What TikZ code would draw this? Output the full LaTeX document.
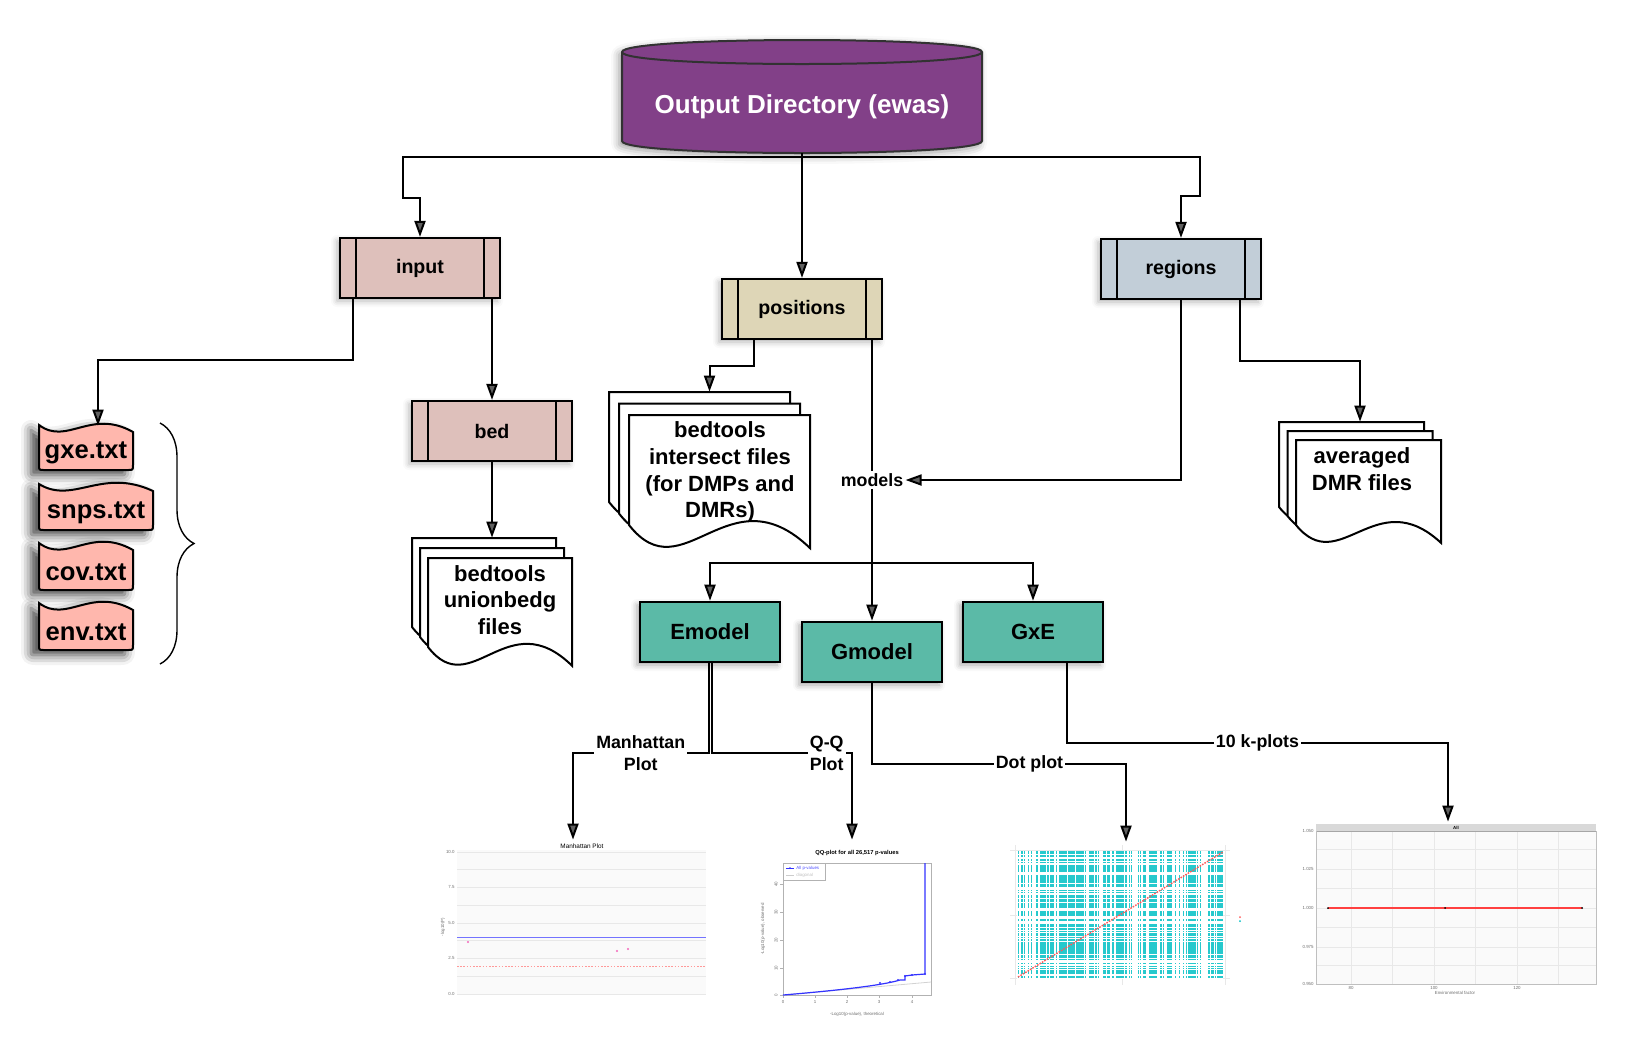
\documentclass[tikz,border=0pt]{standalone}
\usepackage{fontspec}
\setmainfont{Liberation Sans}
\usetikzlibrary{arrows.meta,decorations.pathreplacing,shadows.blur}

\definecolor{outfill}{RGB}{130,64,136}
\definecolor{cylline}{RGB}{50,50,50}
\definecolor{inputfill}{RGB}{222,192,187}
\definecolor{posfill}{RGB}{222,214,183}
\definecolor{regfill}{RGB}{194,206,216}
\definecolor{modelfill}{RGB}{91,186,167}
\definecolor{filefill}{RGB}{255,183,173}
\definecolor{dotcyan}{RGB}{0,191,196}
\definecolor{plotbg}{RGB}{250,250,250}
\definecolor{gridgrey}{RGB}{232,232,232}
\definecolor{tickgrey}{RGB}{110,110,110}

% one sheet of a document stack: left, top, width, height of left edge
\newcommand{\docsheet}[4]{%
  \filldraw[fill=white, line width=1pt] (#1,#2) -- (#1+#3,#2) -- (#1+#3,#2+1.21*#4)
    .. controls (#1+0.55*#3,#2+0.496*#4) and (#1+0.3*#3,#2+1.63*#4) .. (#1,#2+#4) -- cycle;
}
% text file with wavy top: left, top, width, height
\newcommand{\txtfile}[4]{%
  \filldraw[fill=filefill, line width=1pt,
    blur shadow={shadow xshift=-4pt, shadow yshift=-2.5pt, shadow opacity=75, shadow blur radius=5pt}]
    (#1,#2) .. controls (#1+0.3*#3,#2+21) and (#1+0.55*#3,#2-17) .. (#1+#3,#2+7)
    -- (#1+#3,#2+#4-5) .. controls (#1+#3,#2+#4) .. (#1+#3-5,#2+#4)
    -- (#1+5,#2+#4) .. controls (#1,#2+#4) .. (#1,#2+#4-5) -- cycle;
}

\tikzset{
  conn/.style={line width=1pt},
  arr/.style={conn, -{Triangle[width=5.5pt,length=8pt]}},
  procbox/.style={draw, line width=1.1pt, minimum width=80pt, minimum height=30pt,
    font=\bfseries\fontsize{9.8}{11}\selectfont,
    blur shadow={shadow xshift=-1.5pt, shadow yshift=-1.5pt, shadow opacity=30, shadow blur radius=3pt},
    path picture={
      \draw[line width=1.1pt] ([xshift=8pt]path picture bounding box.north west) -- ([xshift=8pt]path picture bounding box.south west);
      \draw[line width=1.1pt] ([xshift=-8pt]path picture bounding box.north east) -- ([xshift=-8pt]path picture bounding box.south east);
    }},
  modelbox/.style={draw, line width=1.3pt, fill=modelfill, minimum width=70pt, minimum height=30pt,
    font=\bfseries\fontsize{11}{13}\selectfont,
    blur shadow={shadow xshift=-1.5pt, shadow yshift=-1.5pt, shadow opacity=35, shadow blur radius=3pt}},
  doctext/.style={align=center, font=\bfseries\fontsize{11}{13.3}\selectfont},
  filetxt/.style={font=\bfseries\fontsize{12.8}{14}\selectfont, minimum width=47pt, minimum height=23pt, inner sep=0pt},
  lbl/.style={fill=white, inner sep=1pt, align=center, font=\bfseries\fontsize{8.9}{11}\selectfont},
  stack/.style={inner sep=0pt},
  ticklab/.style={inner sep=0.5pt, text=tickgrey, font=\fontsize{2.2}{2.6}\selectfont},
  plottitle/.style={inner sep=0.5pt, font=\fontsize{3.2}{3.8}\selectfont},
}

\begin{document}
\begin{tikzpicture}[x=0.5pt, y=-0.5pt]
\useasboundingbox (0,0) rectangle (1637,1062);

% output directory
\filldraw[draw=cylline, fill=outfill, line width=1pt,
  blur shadow={shadow xshift=-1.5pt, shadow yshift=-1.5pt, shadow opacity=40, shadow blur radius=4pt}]
  (622,52) -- (622,141) .. controls (622,157) and (982,157) .. (982,141)
  -- (982,52) .. controls (982,36) and (622,36) .. (622,52) -- cycle;
\draw[cylline, line width=1pt] (622,52) .. controls (622,68) and (982,68) .. (982,52);
\node[font=\bfseries\fontsize{13}{15}\selectfont, text=white, minimum width=180pt, minimum height=46pt] (outdir) at (802,107) {Output Directory (ewas)};

% folders
\node[procbox, fill=inputfill] (input) at (420,268) {input};
\node[procbox, fill=inputfill] (bed) at (492,431) {bed};
\node[procbox, fill=posfill] (positions) at (802,309) {positions};
\node[procbox, fill=regfill] (regions) at (1181,269) {regions};

% input files
\txtfile{39}{425}{94}{45}
\txtfile{39}{484}{114}{46}
\txtfile{39}{543}{94}{47}
\txtfile{39}{603}{94}{47}
\node[filetxt] (gxe) at (86,453) {gxe.txt};
\node[filetxt, minimum width=57pt] (snps) at (96,513) {snps.txt};
\node[filetxt] (cov) at (86,572) {cov.txt};
\node[filetxt] (env) at (86,632) {env.txt};
\draw[line width=0.7pt, decorate, decoration={brace, amplitude=17pt, aspect=0.5}] (160,423) -- (160,664);

% document stacks
\foreach \k in {0,1,2} {\docsheet{412+8*\k}{538+10*\k}{144}{89}}
\node[doctext] (ubdoc) at (500,600) {bedtools\\unionbedg\\files};
\node[stack, minimum width=80pt, minimum height=64pt] (ubstack) at (492,602) {};

\foreach \k in {0,1,2} {\docsheet{609+10*\k}{392+11.5*\k}{181}{110}}
\node[doctext] (isdoc) at (720,472) {bedtools\\intersect files\\(for DMPs and\\DMRs)};
\node[stack, minimum width=100.5pt, minimum height=80pt] (isstack) at (709.5,472) {};

\foreach \k in {0,1,2} {\docsheet{1279+8.5*\k}{422+9*\k}{145}{85}}
\node[doctext] (avdoc) at (1362,469) {averaged\\DMR files};
\node[stack, minimum width=81pt, minimum height=60pt] (avstack) at (1360,482) {};

% models
\node[lbl] (models) at (872,480) {models};
\coordinate (split) at (872,563);
\node[modelbox] (Emodel) at (710,632) {Emodel};
\node[modelbox] (Gmodel) at (872,652) {Gmodel};
\node[modelbox] (GxE) at (1033,632) {GxE};

% plot areas
\node[stack, minimum width=133pt, minimum height=80pt] (manplot) at (573,920) {};
\node[stack, minimum width=95pt, minimum height=90pt] (qqplot) at (852,930) {};
\node[stack, minimum width=126pt, minimum height=73pt] (dotplot) at (1126,915) {};
\node[stack, minimum width=160pt, minimum height=83pt] (kplot) at (1448,905) {};

% connectors
\draw[arr] (outdir.south) -- ++(0,4) -| (403,198) -| (input.north);
\draw[arr] (outdir.south) -- (positions.north);
\draw[arr] (outdir.south) -- ++(0,4) -| (1200,196) -| (regions.north);
\draw[arr] ([xshift=7pt]input.south west) -- ++(0,61) -| ([xshift=6pt,yshift=2pt]gxe.north);
\draw[arr] (bed.north |- input.south) -- (bed.north);
\draw[arr] (bed.south) -- (ubstack.north);
\draw[arr] ([xshift=-24pt]positions.south) -- ++(0,26) -| (isstack.north);
\draw[conn] (positions.south -| models.north) -- (models.north);
\draw[arr] (regions.south) |- (models.east);
\draw[arr] ([xshift=29.5pt]regions.south) -- ++(0,61) -| (avstack.north);
\draw[arr] (models.south) -- (Gmodel.north);
\draw[arr] (split) -| (Emodel.north);
\draw[arr] (split) -| (GxE.north);
\draw[arr] ([xshift=-0.75pt]Emodel.south) -- ++(0,90) -| node[lbl, pos=0.25] (manlab) {Manhattan\\Plot} (manplot.north);
\draw[arr] ([xshift=0.75pt]Emodel.south) -- ++(0,90) -| node[lbl, pos=0.41] (qqlab) {Q-Q\\Plot} (qqplot.north);
\draw[arr] (Gmodel.south) -- ++(0,81) -| node[lbl, pos=0.31] (dotlab) {Dot plot} (dotplot.north);
\draw[arr] ([xshift=17pt]GxE.south) -- ++(0,80) -| node[lbl, pos=0.25] (klab) {10 k-plots} (kplot.north);

% Manhattan plot
\fill[plotbg] (457,850) rectangle (706,995);
\foreach \yy in {869,905,940,976} \draw[gridgrey, line width=0.2pt] (457,\yy) -- (706,\yy);
\foreach \yy/\lab [count=\i] in {852/10.0,887/7.5,923/5.0,958/2.5,994/0.0} {
  \draw[gridgrey, line width=0.4pt] (457,\yy) -- (706,\yy);
  \node[ticklab, anchor=east] (mtick\i) at (456,\yy) {\lab};
}
\draw[blue!55, line width=0.5pt] (457,937) -- (706,937);
\draw[red!40, line width=0.5pt, dash pattern=on 0.8pt off 0.8pt] (457,966) -- (706,966);
\foreach \mx/\my in {468/942,617/951,628/949} \fill[magenta!60] (\mx,\my) circle (0.6pt);
\node[plottitle] (mantitle) at (582,846) {Manhattan Plot};
\node[ticklab, rotate=90] (manylab) at (443,927) {-log10(P)};

% Q-Q plot
\node[plottitle, font=\bfseries\fontsize{2.9}{3.4}\selectfont] (qqtitle) at (857,853) {QQ-plot for all 26,517 p-values};
\draw[gray!60, line width=0.4pt] (783,863) rectangle (931,995);
\foreach \yy/\lab [count=\i] in {995/0,968/10,940/20,912/30,884/40} {
  \draw[gray!60, line width=0.3pt] (783,\yy) -- (780,\yy);
  \node[ticklab, rotate=90, anchor=south] (qqy\i) at (779,\yy) {\lab};
}
\foreach \xx/\lab [count=\i] in {783/0,815/1,847/2,879/3,912/4} {
  \draw[gray!60, line width=0.3pt] (\xx,995) -- (\xx,998);
  \node[ticklab, anchor=north] (qqx\i) at (\xx,999) {\lab};
}
\draw[gray!35, line width=0.4pt] (783,995) -- (931,982);
\draw[blue!80, line width=0.6pt] (783,995) .. controls (830,991) and (880,986) .. (900,980)
  -- (905,980) -- (905,976) -- (912,975) -- (925,974) -- (925,863);
\foreach \mx/\my in {880/983,890/982,898/980,905/976,912/975,925/974} \fill[blue!80] (\mx,\my) circle (0.6pt);
\draw[gray!60, line width=0.3pt] (783,863) rectangle (825,880);
\draw[blue!80, line width=0.4pt] (786,868) -- (794,868);
\fill[blue!80] (790,868) circle (0.5pt);
\node[ticklab, anchor=west, text=blue!70] (qqleg1) at (795,868) {All p-values};
\draw[gray!40, line width=0.4pt] (786,875) -- (794,875);
\node[ticklab, anchor=west, text=gray!50] (qqleg2) at (795,875) {diagonal};
\node[ticklab] (qqxlab) at (857,1014) {-Log10(p-value), theoretical};
\node[ticklab, rotate=90] (qqylab) at (763,929) {-Log10(p-value), observed};

% dot plot
\foreach \gx in {1015,1122,1225} \draw[gridgrey, line width=0.5pt] (\gx,845) -- (\gx,985);
\foreach \gy in {850,915,978} \draw[gridgrey, line width=0.5pt] (1010,\gy) -- (1230,\gy);
\fill[dotcyan!85] (1017,851) rectangle (1223,979);
\pgfmathsetseed{3}
\foreach \i in {1,...,90} {
  \pgfmathsetmacro{\gx}{1017+206*rnd}
  \pgfmathsetmacro{\gw}{0.08+0.25*rnd}
  \draw[white, line width=\gw*1pt] (\gx,851) -- (\gx,979);
}
\foreach \i in {1,...,55} {
  \pgfmathsetmacro{\gy}{851+128*rnd}
  \pgfmathsetmacro{\gw}{0.08+0.22*rnd}
  \draw[white, line width=\gw*1pt] (1017,\gy) -- (1223,\gy);
}
\foreach \gx/\gw in {1033/0.9,1058/0.6,1100/1.1,1185/1.4,1203/0.7} \draw[white, line width=\gw*1pt] (\gx,851) -- (\gx,979);
\draw[red!65, line width=0.7pt, dash pattern=on 0.8pt off 0.6pt] (1018,977) -- (1223,852);
\fill[red!65] (1240,917) circle (0.5pt);
\fill[dotcyan] (1240,921) circle (0.5pt);

% k-plot
\fill[plotbg] (1316,831) rectangle (1596,984);
\foreach \yy in {849.5,888.5,927.5,965.5} \draw[gridgrey, line width=0.2pt] (1316,\yy) -- (1596,\yy);
\foreach \xx in {1392,1475,1558} \draw[gridgrey, line width=0.2pt] (\xx,831) -- (\xx,984);
\foreach \yy/\lab [count=\i] in {831/1.050,869/1.025,908/1.000,947/0.975,984/0.950} {
  \draw[gridgrey, line width=0.4pt] (1316,\yy) -- (1596,\yy);
  \node[ticklab, anchor=east] (ky\i) at (1315,\yy) {\lab};
}
\foreach \xx/\lab [count=\i] in {1351/80,1434/100,1517/120} {
  \draw[gridgrey, line width=0.4pt] (\xx,831) -- (\xx,984);
  \node[ticklab, anchor=north] (kx\i) at (\xx,985) {\lab};
}
\fill[gray!30] (1316,824) rectangle (1596,831);
\draw[gray!70, line width=0.4pt] (1316,831) -- (1596,831);
\node[plottitle, font=\bfseries\fontsize{2.2}{2.6}\selectfont] (kstrip) at (1456,827.5) {All};
\draw[gray!50, line width=0.4pt] (1316,831) -- (1316,984) -- (1596,984) -- (1596,831);
\draw[red!75, line width=0.8pt] (1328,908) -- (1582,908);
\foreach \xx in {1328,1445,1582} \fill (\xx,908) circle (0.5pt);
\node[ticklab] (kxlab) at (1455,993) {Environmental factor};
\end{tikzpicture}
\end{document}
